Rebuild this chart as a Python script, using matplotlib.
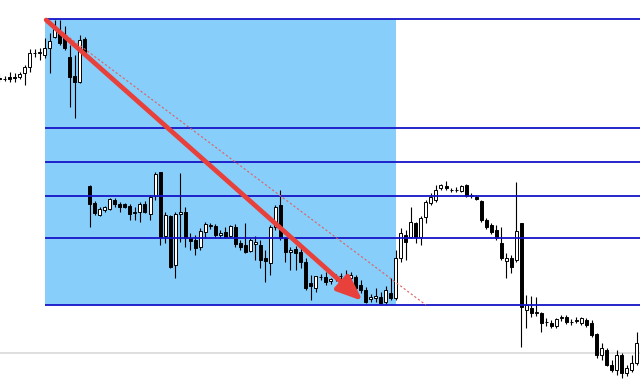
import matplotlib
matplotlib.use("Agg")
import matplotlib.pyplot as plt
from matplotlib.patches import Rectangle

# OHLC series (price points)
opens = [322, 321, 323, 323, 323, 327, 333, 347, 347, 345,
         352, 363, 369, 365, 343, 324, 318, 361, 214, 197,
         185, 190, 191, 200, 196, 196, 194, 187, 188, 196,
         186, 204, 228, 164, 184, 135, 186, 188, 162, 160,
         153, 168, 174, 174, 165, 168, 164, 173, 157, 155,
         149, 156, 155, 142, 137, 173, 195, 162, 148, 151,
         148, 138, 117, 112, 123, 123, 119, 123, 124, 123,
         122, 123, 115, 110, 101, 102, 103, 98, 107, 102,
         142, 165, 163, 177, 163, 183, 197, 200, 212, 214,
         210, 210, 209, 215, 205, 203, 199, 180, 175, 170,
         157, 139, 142, 140, 177, 90, 92, 87, 87, 78,
         77, 74, 82, 83, 78, 79, 77, 80, 77, 66,
         45, 50, 35, 30, 45, 27, 30, 37]
highs = [326, 324, 328, 327, 328, 335, 351, 351, 352, 362,
         367, 380, 380, 374, 355, 345, 365, 363, 215, 199,
         193, 194, 202, 202, 198, 197, 196, 193, 198, 199,
         205, 228, 228, 188, 185, 188, 227, 193, 167, 165,
         172, 178, 177, 176, 170, 173, 175, 176, 160, 177,
         162, 164, 160, 150, 175, 195, 210, 163, 153, 154,
         152, 142, 125, 124, 126, 128, 122, 126, 127, 130,
         128, 125, 120, 113, 106, 112, 108, 114, 122, 150,
         172, 170, 193, 178, 184, 200, 207, 215, 216, 219,
         212, 213, 215, 216, 207, 205, 200, 182, 177, 175,
         173, 147, 145, 218, 177, 105, 104, 103, 88, 82,
         80, 82, 85, 85, 81, 83, 83, 82, 80, 67,
         57, 52, 40, 50, 47, 35, 45, 68]
lows = [318, 319, 318, 318, 321, 315, 328, 343, 340, 342,
        327, 362, 355, 350, 293, 282, 317, 345, 173, 185,
        184, 188, 190, 193, 188, 192, 180, 180, 178, 187,
        180, 200, 155, 157, 132, 122, 158, 153, 150, 145,
        150, 162, 171, 163, 162, 162, 163, 153, 150, 147,
        148, 140, 132, 118, 125, 170, 160, 138, 130, 130,
        132, 110, 100, 108, 120, 115, 116, 119, 121, 119,
        120, 108, 107, 97, 98, 98, 96, 96, 100, 100,
        138, 140, 162, 157, 155, 177, 195, 198, 210, 210,
        208, 208, 208, 203, 202, 200, 178, 171, 166, 160,
        140, 122, 127, 138, 53, 72, 83, 84, 68, 74,
        72, 72, 79, 76, 75, 77, 75, 73, 63, 42,
        40, 34, 28, 25, 22, 24, 28, 35]
closes = [321, 321, 321, 322, 326, 333, 347, 347, 348, 352,
          359, 371, 357, 352, 323, 318, 360, 348, 196, 187,
          191, 193, 201, 196, 193, 193, 186, 188, 196, 188,
          203, 226, 163, 185, 133, 186, 188, 162, 159, 152,
          169, 176, 175, 165, 167, 163, 174, 156, 153, 148,
          160, 158, 140, 139, 173, 193, 162, 148, 150, 147,
          138, 112, 114, 124, 123, 118, 121, 123, 124, 123,
          125, 112, 110, 98, 103, 104, 97, 110, 102, 142,
          167, 158, 178, 163, 182, 198, 203, 210, 215, 212,
          210, 210, 214, 204, 204, 201, 180, 173, 168, 162,
          142, 142, 133, 169, 93, 95, 87, 88, 77, 78,
          74, 81, 83, 78, 78, 80, 82, 75, 65, 45,
          52, 35, 30, 45, 27, 32, 37, 57]

# Fibonacci retracement anchors and levels
fib_high = 381
fib_low = 95
fib_start = 9
fib_end = 85
fib_ratios = [0.0, 0.236, 0.382, 0.5, 0.618, 1.0]

# Shaded zone, trend arrow and the grey price line
zone_end = 79
arrow_from = (9.3, 380)
arrow_to = (72.4, 99)
ref_level = 47

fig = plt.figure(figsize=(6.4, 3.81), dpi=100)
ax = fig.add_axes([0, 0, 1, 1])
x_left = 0.1
x_right = x_left + 640 / 5.017
ax.set_xlim(x_left, x_right)
ax.set_ylim(19, 400)
ax.axis("off")

ax.add_patch(Rectangle((fib_start, fib_low), zone_end - fib_start,
                       fib_high - fib_low, facecolor="#87CEFA",
                       edgecolor="none", zorder=0))
ax.axhline(ref_level, color="#dcdcdc", lw=1.3, zorder=1)

# candles
for i, (o, h, l, c) in enumerate(zip(opens, highs, lows, closes)):
    ax.vlines(i, l, h, color="black", lw=0.8, zorder=2)
    up = c >= o
    ax.bar(i, abs(c - o), bottom=min(o, c), width=0.6,
           color="white" if up else "black", edgecolor="black",
           linewidth=0.7, zorder=3)

for r in fib_ratios:
    level = fib_low + r * (fib_high - fib_low)
    ax.plot([fib_start, x_right], [level, level], color="#1414c8",
            lw=1.3, zorder=4, solid_capstyle="butt")

ax.plot([fib_start, fib_end], [fib_high, fib_low], color="#e06060",
        lw=0.8, ls=(0, (2, 2)), zorder=5)

ax.annotate("", xy=arrow_to, xytext=arrow_from,
            arrowprops=dict(arrowstyle="-|>,head_length=0.55,head_width=0.22",
                            color="#e8403a", lw=3.4, mutation_scale=28,
                            shrinkA=0, shrinkB=0), zorder=6)

fig.savefig("out.png", dpi=100, facecolor="white")
